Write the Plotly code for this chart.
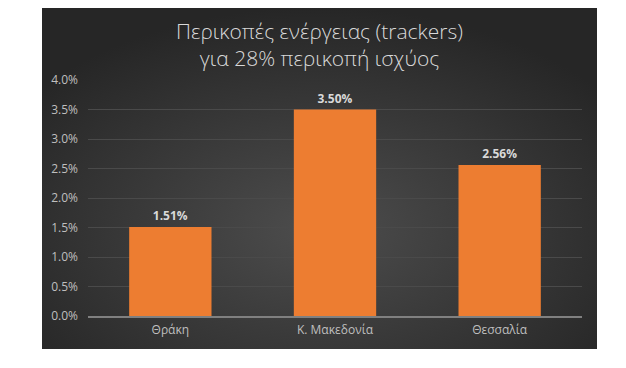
import plotly.graph_objects as go
import base64

categories = ["Θράκη", "Κ. Μακεδονία", "Θεσσαλία"]
values = [0.0151, 0.0350, 0.0256]
labels = ["1.51%", "3.50%", "2.56%"]
tick_vals = [0, 0.005, 0.01, 0.015, 0.02, 0.025, 0.03, 0.035, 0.04]
tick_text = ["0.0%", "0.5%", "1.0%", "1.5%", "2.0%", "2.5%", "3.0%", "3.5%", "4.0%"]

W, H = 626, 368
L, R, T, B = 80, 52, 72, 60
pw, ph = W - L - R, H - T - B
# dark panel in pixels (figure coordinates)
px0, px1, py0, py1 = 34, 589, -1, 341

svg = ('<svg xmlns="http://www.w3.org/2000/svg" width="555" height="342" preserveAspectRatio="none">'
       '<defs><radialGradient id="g" cx="50%" cy="65%" r="65%">'
       '<stop offset="0%" stop-color="#4d4d4d"/><stop offset="100%" stop-color="#262626"/>'
       '</radialGradient></defs><rect width="555" height="342" fill="url(#g)"/></svg>')
src = "data:image/svg+xml;base64," + base64.b64encode(svg.encode()).decode()

fig = go.Figure(go.Bar(
    x=categories, y=values, text=labels, textposition="outside",
    textfont=dict(family="Open Sans", size=12, color="#d9d9d9", weight="bold"),
    marker=dict(color="#ED7D31", line=dict(width=0)),
    width=0.5, cliponaxis=False,
))

fig.update_layout(
    width=W, height=H,
    margin=dict(l=L, r=R, t=T, b=B),
    paper_bgcolor="white", plot_bgcolor="rgba(0,0,0,0)",
    showlegend=False,
    images=[dict(source=src, xref="paper", yref="paper",
                 x=(px0 - L) / pw, y=(H - B - py0) / ph,
                 sizex=(px1 - px0) / pw, sizey=(py1 - py0) / ph,
                 xanchor="left", yanchor="top", sizing="stretch", layer="below")],
    title=dict(text="Περικοπές ενέργειας (trackers)<br>για 28% περικοπή ισχύος",
               x=((px0 + px1) / 2) / W, xanchor="center", y=1 - 31 / H, yanchor="middle",
               font=dict(family="Open Sans", size=21, color="#d9d9d9", weight=300)),
    xaxis=dict(showgrid=False, showline=True, linecolor="#808080", linewidth=1.5,
               ticks="", ticklabelstandoff=2,
               tickfont=dict(family="Open Sans", size=12, color="#bfbfbf")),
    yaxis=dict(range=[0, 0.04], tickvals=tick_vals, ticktext=tick_text,
               showgrid=True, gridcolor="#4a4a4a", gridwidth=1, zeroline=False,
               ticks="", ticklabelstandoff=9,
               tickfont=dict(family="Open Sans", size=12, color="#bfbfbf")),
    bargap=0.5,
)

fig.write_html("out.html")
